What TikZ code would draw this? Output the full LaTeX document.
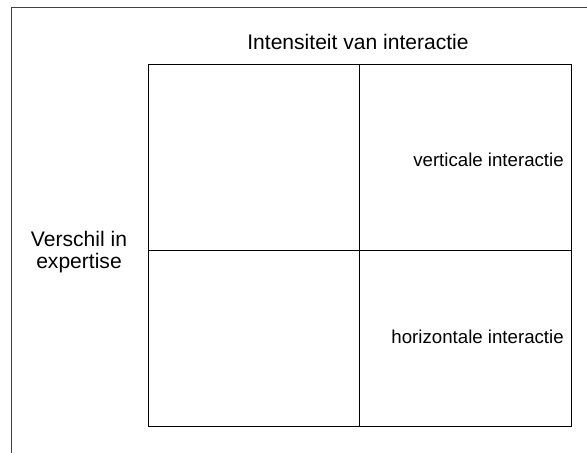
\documentclass[tikz,border=0pt]{standalone}
\usepackage{fontspec}
\setmainfont{Liberation Sans}
\begin{document}
\begin{tikzpicture}[x=0.75pt,y=-0.75pt,
  lbl/.style={inner sep=0pt,font=\fontsize{14pt}{17pt}\selectfont},
  biglbl/.style={inner sep=0pt,font=\fontsize{15.8pt}{16pt}\selectfont},
  gridline/.style={draw=black,line width=0.75pt},
  frameline/.style={draw=black!75,line width=0.75pt}]
\useasboundingbox (0,0) rectangle (587,453);
% outer frame (top and left only)
\coordinate (ftr) at (587,7.5);
\coordinate (ftl) at (11.5,7.5);
\coordinate (fbl) at (11.5,453);
\draw[frameline] (ftr) -- (ftl) -- (fbl);
% grid
\coordinate (tl) at (148,65);
\coordinate (br) at (571,427);
\coordinate (tm) at (359,65);
\coordinate (bm) at (359,427);
\coordinate (ml) at (148,251);
\coordinate (mr) at (571,251);
\draw[gridline] (tl) rectangle (br);
\draw[gridline] (tm) -- (bm);
\draw[gridline] (ml) -- (mr);
% labels
\node[biglbl] (top) at (358,42) {Intensiteit van interactie};
\node[biglbl,align=center] (left) at (79,252) {Verschil in\\expertise};
\node[lbl,anchor=east] (vert) at (564,160) {verticale interactie};
\node[lbl,anchor=east] (hor) at (564,337) {horizontale interactie};
\end{tikzpicture}
\end{document}
